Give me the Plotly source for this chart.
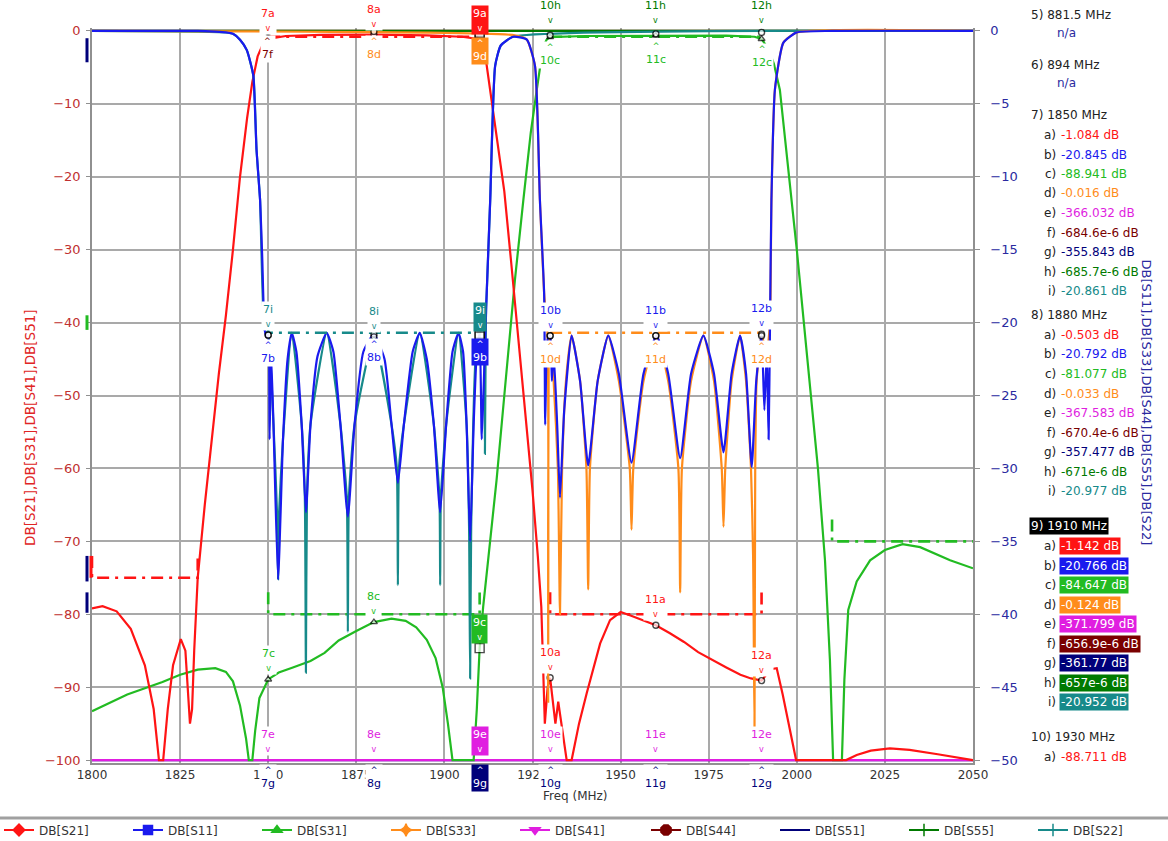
import plotly.graph_objects as go

# ---------------- data ----------------
# S21 (left axis, dB)
s21_f = [1800, 1803, 1807, 1811, 1815, 1817.5, 1819, 1820.2, 1821.5, 1823, 1825.2, 1826.5, 1827.8, 1828.4,
         1829, 1830, 1832, 1834, 1836, 1838, 1840, 1842, 1844, 1845.5, 1847, 1848.5, 1850, 1855, 1865,
         1880, 1895, 1905, 1910, 1911.5, 1913, 1915, 1917, 1919, 1921, 1923, 1925, 1926.5, 1927.5, 1928.5,
         1929.3, 1930, 1930.6, 1931.5, 1932.3, 1934.7, 1936.1, 1938.2, 1940.4, 1944.2, 1947, 1950, 1953,
         1957, 1960, 1964, 1968, 1972, 1976, 1980, 1984, 1987, 1990, 1991.5, 1993, 1994.3, 1996, 1998,
         1999.8, 2012, 2014, 2017, 2021, 2026.4, 2032, 2040, 2046, 2050]
s21_db = [-79.2, -78.9, -79.6, -82, -87, -93, -100, -100, -93, -87, -83.4, -85, -95, -93,
          -85, -75, -65, -56, -47, -39, -30, -20, -12, -7, -3.5, -1.8, -1.084, -0.7, -0.55,
          -0.503, -0.6, -0.8, -1.142, -3, -8, -15, -22, -32, -42, -52, -63, -72, -79, -95,
          -90, -88.711, -91, -95, -92, -100, -100, -95, -90.8, -84, -80.8, -79.7, -80.2,
          -81, -81.5, -82.6, -83.8, -85.2, -86.3, -87.3, -88.3, -88.8, -89.1, -88.2, -87.5, -87.4, -91, -96,
          -100, -100, -100, -99.3, -98.7, -98.4, -98.6, -99.2, -99.7, -100]

# S31 (left axis, dB)
s31_f = [1800, 1810, 1820, 1825, 1830, 1835, 1838, 1840, 1842, 1843.7, 1844.5, 1845.5, 1846.3, 1847.5,
         1850, 1853, 1857, 1862, 1866, 1870, 1875, 1880, 1885, 1889, 1892, 1895, 1897.5, 1899.5, 1901,
         1902.3, 1908.3, 1909.2, 1910, 1911, 1912.4, 1914.8, 1917, 1920, 1922.4, 1924.5, 1926.2, 1928,
         1929, 1930, 1940, 1960, 1980, 1988, 1990, 1992, 1993.5, 1995.2, 1997, 2000, 2003, 2006, 2008,
         2009.4, 2010.3, 2012.8, 2013.5, 2014.6, 2017, 2020.8, 2025, 2030, 2035, 2040, 2043.5, 2050]
s31_db = [-93.3, -91, -89.3, -88.3, -87.6, -87.4, -87.9, -89.2, -92.5, -97, -100, -100, -96, -91.5,
          -88.941, -88, -87.3, -86.4, -85.3, -83.6, -82.3, -81.077, -80.6, -80.9, -81.8, -83.5, -86, -90, -95,
          -100, -100, -93, -84.647, -79, -72.6, -61.6, -50, -34.2, -23.2, -14, -8.1, -2.2,
          -1.2, -0.85, -0.7, -0.65, -0.65, -0.8, -1.1, -2.5, -4.5, -8.1, -16, -30, -45, -60, -72.6,
          -86.3, -100, -100, -89, -79.4, -75.5, -72.6, -71.2, -70.4, -70.8, -71.9, -72.6, -73.7]

# S41 / S51 (left axis, far below the axis floor)
s41_f = [1800, 1850, 1880, 1910, 2050]
s41_db = [-365.0, -366.032, -367.583, -371.799, -380.0]
s51_f = [1800, 1850, 1880, 1910, 2050]
s51_db = [-355.0, -355.843, -357.477, -361.77, -370.0]

# S11 (right axis, dB)
s11_f = [1800, 1820, 1830, 1835, 1838, 1840, 1842, 1843.9, 1845, 1845.8, 1846.7, 1847.7, 1848.3, 1849,
         1849.6, 1850, 1850.4, 1850.8, 1851.5, 1852.8, 1854.2, 1855.5, 1856.7, 1858, 1859.5, 1860.7, 1862,
         1864, 1866.6, 1868.5, 1870.5, 1872.6, 1874.5, 1877, 1880, 1883, 1885, 1886.8, 1888.5, 1891, 1893,
         1895, 1897, 1898.8, 1900.5, 1902.3, 1904, 1905.3, 1906.3, 1907.3, 1908.3, 1909.2, 1910, 1910.6,
         1911.2, 1912, 1913, 1914.4, 1916, 1919.5, 1923.4, 1925.7, 1927.1, 1928.3, 1928.6, 1929, 1929.5,
         1930, 1930.5, 1931, 1932, 1932.8, 1934, 1936.1, 1938.5, 1940.8, 1943.5, 1946.5, 1949.5, 1953.1,
         1956.5, 1960.2, 1963.5, 1966.9, 1970, 1973.5, 1976.5, 1979.2, 1981.5, 1983.9, 1985.6, 1987.2,
         1988.5, 1990, 1990.8, 1991.5, 1992, 1992.4, 1992.8, 1993.8, 1996.2, 2000, 2010, 2050]
s11_db = [0, 0, 0, -0.05, -0.1, -0.2, -0.6, -1.3, -2.2, -3.1, -8.2, -11.6, -15.5, -20.5,
          -21, -20.845, -28, -22, -27, -37.6, -28, -22.5, -20.7, -22, -27, -33, -27,
          -22.3, -20.7, -22, -27, -33.3, -27, -22, -20.792, -22.5, -27, -31, -27, -22, -20.7,
          -22.5, -27, -33, -27, -22, -20.7, -22, -27, -35, -27, -22, -20.766, -28,
          -24, -18, -11.6, -2.4, -1.0, -0.4, -0.6, -2.4, -11.6, -18, -27, -22, -20.9,
          -20.9, -24, -22, -27, -32, -26, -20.9, -24, -29.8, -24, -20.9, -23.5, -29.6,
          -23.5, -20.9, -23.5, -29.3, -23.5, -20.9, -23.5, -28.9, -23.5, -20.9, -23.5, -29.9,
          -24, -20.8, -26, -22, -28, -20, -11.6, -4, -0.8, -0.1, 0, 0]

# S22 (right axis, dB)
s22_f = [1800, 1838, 1840, 1842, 1843.9, 1845.8, 1846.7, 1847.7, 1849, 1850, 1851.5, 1852.5, 1852.8, 1853.1,
         1854.2, 1856.7, 1859.5, 1860.4, 1860.7, 1861, 1862, 1866.6, 1870.5, 1872.3, 1872.6, 1872.9,
         1874.5, 1880, 1885, 1886.5, 1886.8, 1887.1, 1888.5, 1893, 1897, 1898.6, 1898.8, 1899.0, 1900.5,
         1904, 1906.3, 1907.0, 1907.3, 1907.6, 1909, 1910, 1911.2, 1911.5, 1911.8, 1912, 1913, 1914.4,
         1916, 1919.5, 2050]
s22_db = [0, -0.1, -0.2, -0.6, -1.3, -3.1, -8.2, -11.6, -20.5, -20.861, -27, -33, -37.6, -33,
          -28, -20.7, -27, -32, -44, -32, -27, -20.7, -27, -32, -41.2, -32,
          -27, -20.977, -27, -30, -38, -30, -27, -20.7, -27, -32, -38, -32, -27,
          -20.7, -27, -34, -44.4, -34, -22, -20.952, -19, -29, -19, -18, -11.6, -2.4,
          -1.0, -0.4, 0]

# S33 (right axis, dB)
s33_f = [1800, 1920, 1923.4, 1925.7, 1927.1, 1928.3, 1929.3, 1929.45, 1929.6, 1930, 1931, 1932.2, 1932.8,
         1933.4, 1934.5, 1936.1, 1938.5, 1940.3, 1940.8, 1941.3, 1943.5, 1946.5, 1949.5, 1952.6, 1953.1,
         1953.6, 1956.5, 1960.2, 1963.5, 1966.4, 1966.9, 1967.4, 1970, 1973.5, 1976.5, 1978.7, 1979.2,
         1979.7, 1981.5, 1983.9, 1985.6, 1987.0, 1987.6, 1988.0, 1988.2, 1988.6, 1990, 1991.5, 1992.4,
         1992.8, 1993.8, 1996.2, 2000, 2050]
s33_db = [0, -0.3, -0.6, -2.4, -11.6, -18, -21, -46, -22, -20.9, -24, -30, -40,
          -30, -24, -20.9, -24, -30, -38.3, -30, -24, -20.9, -24, -30, -34.2,
          -30, -24, -20.9, -24, -30, -38.5, -30, -24, -20.9, -24, -30, -34,
          -30, -24, -20.9, -24, -30, -36, -48, -30, -24, -20.9, -22, -20,
          -11.6, -4, -0.8, -0.1, 0]

# S44 / S55 (right axis, essentially 0 dB)
s44_f = [1800, 1850, 1880, 1910, 2050]
s44_db = [-690e-6, -684.6e-6, -670.4e-6, -656.9e-6, -640e-6]
s55_f = [1800, 1850, 1880, 1910, 2050]
s55_db = [-690e-6, -685.7e-6, -671e-6, -657e-6, -640e-6]

# limit lines (dash-dot)
lim_s21_f = [1800, 1800, 1830, 1830, None, 1850, 1910, None, 1930, 1930, 1990, 1990]
lim_s21_db = [-72, -75, -75, -72, None, -0.8, -0.8, None, -77, -80, -80, -77]
lim_s31_f = [1850, 1850, 1910, 1910, None, 1930, 1990, None, 2010, 2010, 2050]
lim_s31_db = [-77, -80, -80, -77, None, -0.8, -0.8, None, -67, -70, -70]
lim_s22_f = [1850, 1850, 1910]
lim_s22_db = [-20.2, -20.7, -20.7]
lim_s33_f = [1930, 1990, 1990]
lim_s33_db = [-20.7, -20.7, -20.2]

# short reference bars drawn beside the left axis (left-axis dB, colour index)
axis_bars = [(-1.0, -4.3, 6), (-72.0, -75.5, 6), (-77.0, -79.8, 6), (-72.0, -75.0, 0), (-39.0, -41.0, 2)]

# markers
mk_id = [7, 8, 9, 10, 11, 12]
mk_f = [1850, 1880, 1910, 1930, 1960, 1990]
mk_txt = {
    7: ["-1.084", "-20.845", "-88.941", "-0.016", "-366.032", "-684.6e-6", "-355.843", "-685.7e-6", "-20.861"],
    8: ["-0.503", "-20.792", "-81.077", "-0.033", "-367.583", "-670.4e-6", "-357.477", "-671e-6", "-20.977"],
    9: ["-1.142", "-20.766", "-84.647", "-0.124", "-371.799", "-656.9e-6", "-361.77", "-657e-6", "-20.952"],
    10: ["-88.711", "-20.9", "-0.85", "-20.9", "-370", "-650e-6", "-360", "-650e-6", "-0.3"],
    11: ["-81.5", "-20.9", "-0.65", "-20.9", "-372", "-645e-6", "-362", "-645e-6", "-0.2"],
    12: ["-89.1", "-20.8", "-1.1", "-20.9", "-374", "-640e-6", "-364", "-640e-6", "-0.1"],
}
letters = ["a", "b", "c", "d", "e", "f", "g", "h", "i"]
trace_names = ["DB[S21]", "DB[S11]", "DB[S31]", "DB[S33]", "DB[S41]", "DB[S44]", "DB[S51]", "DB[S55]", "DB[S22]"]
trace_axis = ["y", "y2", "y", "y2", "y", "y2", "y", "y2", "y2"]
trace_col = ["#ff1414", "#1a1aee", "#22bb22", "#ff8c1a", "#e01ee0", "#7a0000", "#00007a", "#007a00", "#178a8a"]

label_specs = {
    7: [("a", "up"), ("f", "dn"), ("i", "up"), ("b", "dn"), ("c", "up"), ("e", "up"), ("g", "dn")],
    8: [("a", "up"), ("d", "dn"), ("i", "up"), ("b", "dn"), ("c", "up"), ("e", "up"), ("g", "dn")],
    9: [("a", "up"), ("d", "dn"), ("i", "up"), ("b", "dn"), ("c", "up"), ("e", "up"), ("g", "dn")],
    10: [("h", "up"), ("c", "dn"), ("b", "up"), ("d", "dn"), ("a", "up"), ("e", "up"), ("g", "dn")],
    11: [("h", "up"), ("c", "dn"), ("b", "up"), ("d", "dn"), ("a", "up"), ("e", "up"), ("g", "dn")],
    12: [("h", "up"), ("c", "dn"), ("b", "up"), ("d", "dn"), ("a", "up"), ("e", "up"), ("g", "dn")],
}
active_marker = 9

panel_headers = ["5) 881.5 MHz", "6) 894 MHz", "7) 1850 MHz", "8) 1880 MHz", "9) 1910 MHz", "10) 1930 MHz"]
panel_ids = [5, 6, 7, 8, 9, 10]
panel_count = {5: 0, 6: 0, 7: 9, 8: 9, 9: 9, 10: 1}

x_ticks = [1800, 1825, 1850, 1875, 1900, 1925, 1950, 1975, 2000, 2025, 2050]
y_ticks = [0, -10, -20, -30, -40, -50, -60, -70, -80, -90, -100]
y2_ticks = [0, -5, -10, -15, -20, -25, -30, -35, -40, -45, -50]

# ---------------- figure ----------------
W, H = 1168, 841
PL, PR, PT, PB = 92, 973, 28, 763
Y_LO, Y_HI = -100.4, 0.4
Y2_LO, Y2_HI = -50.2, 0.2
FONT = "DejaVu Sans, Liberation Sans, Arial, sans-serif"


def pxx(px):
    return (px - PL) / (PR - PL)


def pxy(py):
    return (PB - py) / (PB - PT)


def clip(v, ax):
    lo = -100 if ax == "y" else -50
    return None if v is None else max(v, lo)


fig = go.Figure()

series = {
    "DB[S21]": (s21_f, s21_db), "DB[S11]": (s11_f, s11_db), "DB[S31]": (s31_f, s31_db),
    "DB[S33]": (s33_f, s33_db), "DB[S41]": (s41_f, s41_db), "DB[S44]": (s44_f, s44_db),
    "DB[S51]": (s51_f, s51_db), "DB[S55]": (s55_f, s55_db), "DB[S22]": (s22_f, s22_db),
}
smooth = {"DB[S11]", "DB[S33]", "DB[S22]"}
draw_order = ["DB[S51]", "DB[S41]", "DB[S44]", "DB[S55]", "DB[S22]", "DB[S33]", "DB[S11]", "DB[S31]", "DB[S21]"]

for nm in draw_order:
    k = trace_names.index(nm)
    f, v = series[nm]
    ax = trace_axis[k]
    ln = dict(color=trace_col[k], width=2.2)
    if nm in smooth:
        ln.update(shape="spline", smoothing=0.5)
    fig.add_trace(go.Scatter(x=f, y=[clip(t, ax) for t in v], mode="lines", yaxis=ax,
                             line=ln, showlegend=False, hoverinfo="skip"))

dashpat = "12px,6px,3px,6px"
for f, v, k in [(lim_s22_f, lim_s22_db, 8), (lim_s33_f, lim_s33_db, 3), (lim_s31_f, lim_s31_db, 2),
                (lim_s21_f, lim_s21_db, 0)]:
    fig.add_trace(go.Scatter(x=f, y=v, mode="lines", yaxis=trace_axis[k], connectgaps=False,
                             line=dict(color=trace_col[k], width=2.6, dash=dashpat),
                             showlegend=False, hoverinfo="skip"))

# marker points
for ax in ["y", "y2"]:
    xs, ys, syms, sizes = [], [], [], []
    for mid, f in zip(mk_id, mk_f):
        for li, lt in enumerate(letters):
            if trace_axis[li] != ax or lt in ("e", "g", "f", "h"):
                continue
            val = float(mk_txt[mid][li])
            xs.append(f)
            ys.append(clip(val, ax))
            syms.append("square" if mid == active_marker else ("triangle-up" if lt == "c" else "circle"))
            sizes.append(9 if mid == active_marker else 6)
    fig.add_trace(go.Scatter(x=xs, y=ys, mode="markers", yaxis=ax, cliponaxis=False,
                             marker=dict(symbol=syms, size=sizes, color="white",
                                         line=dict(color="black", width=1.4)),
                             showlegend=False, hoverinfo="skip"))

# legend entries (split over two legend boxes so they fit on one row)
leg_sym = ["diamond", "square", "triangle-up", "star-diamond", "triangle-down", "octagon", None, "cross-thin", "cross-thin"]
for k, nm in enumerate(trace_names):
    sym = leg_sym[k]
    lg = "legend" if k < 5 else "legend2"
    if sym is None:
        fig.add_trace(go.Scatter(x=[None], y=[None], mode="lines", name=nm, legend=lg,
                                 line=dict(color=trace_col[k], width=2)))
    else:
        fig.add_trace(go.Scatter(x=[None], y=[None], mode="lines+markers", name=nm, legend=lg,
                                 line=dict(color=trace_col[k], width=2),
                                 marker=dict(symbol=sym, size=9 if k != 5 else 11, color=trace_col[k],
                                             line=dict(color=trace_col[k], width=1.5))))

ann = []
# marker labels
for mid, f in zip(mk_id, mk_f):
    for lt, side in label_specs[mid]:
        li = letters.index(lt)
        ax = trace_axis[li]
        val = clip(float(mk_txt[mid][li]), ax)
        col = trace_col[li]
        lab = f"{mid}{lt}"
        active = mid == active_marker
        if side == "up":
            txt = f"{lab}<br><span style='font-size:8px'>v</span>"
            ya, ys = "bottom", 4
        else:
            txt = f"<span style='font-size:8px'>^</span><br>{lab}"
            ya, ys = "top", -4
        ann.append(dict(x=f, y=val, xref="x", yref=ax, text=txt, showarrow=False, yanchor=ya, yshift=ys,
                        font=dict(size=11, color="white" if active else col, family=FONT),
                        bgcolor=col if active else "white", borderpad=1))

# right readout panel
ycur = 15
for hdr, pid in zip(panel_headers, panel_ids):
    n = panel_count[pid]
    active = pid == active_marker
    ann.append(dict(x=pxx(1029), y=pxy(ycur), xref="paper", yref="paper", text=hdr, showarrow=False,
                    xanchor="left", yanchor="middle",
                    font=dict(size=12, color="white" if active else "#222222", family=FONT),
                    bgcolor="black" if active else "rgba(0,0,0,0)", borderpad=1))
    if n == 0:
        ann.append(dict(x=pxx(1055), y=pxy(ycur + 18), xref="paper", yref="paper", text="n/a",
                        showarrow=False, xanchor="left", yanchor="middle",
                        font=dict(size=12, color="#2a2aa0", family=FONT)))
        ycur += 50
        continue
    yy = ycur + 20
    for li in range(n):
        col = trace_col[li]
        ann.append(dict(x=pxx(1058), y=pxy(yy), xref="paper", yref="paper", text=f"{letters[li]})",
                        showarrow=False, xanchor="right", yanchor="middle",
                        font=dict(size=12, color="#222222", family=FONT)))
        ann.append(dict(x=pxx(1059), y=pxy(yy), xref="paper", yref="paper", text=f"{mk_txt[pid][li]} dB",
                        showarrow=False, xanchor="left", yanchor="middle",
                        font=dict(size=12, color="white" if active else col, family=FONT),
                        bgcolor=col if active else "rgba(0,0,0,0)", borderpad=1))
        yy += 19.5
    ycur = yy - 19.5 + (35 if pid + 1 == active_marker or active else 24)

# axis titles
ann.append(dict(x=pxx(20), y=pxy(428), xref="paper", yref="paper", text="DB[S21],DB[S31],DB[S41],DB[S51]",
                textangle=-90, showarrow=False, font=dict(size=13.5, color="#e02424", family=FONT)))
ann.append(dict(x=pxx(1156), y=pxy(402), xref="paper", yref="paper",
                text="DB[S11],DB[S33],DB[S44],DB[S55],DB[S22]",
                textangle=90, showarrow=False, font=dict(size=13, color="#2a2aa0", family=FONT)))
ann.append(dict(x=pxx(575), y=pxy(805), xref="paper", yref="paper", text="Freq (MHz)", showarrow=False,
                font=dict(size=12, color="#333333", family=FONT)))

shapes = [dict(type="line", xref="paper", yref="paper", x0=pxx(0), x1=pxx(W), y0=pxy(818), y1=pxy(818),
               line=dict(color="#a0a0a0", width=3))]
for k, (y0, y1, ci) in enumerate(axis_bars):
    xo = 87 if ci != 0 else 91
    shapes.append(dict(type="line", xref="paper", yref="y", x0=pxx(xo), x1=pxx(xo), y0=y0, y1=y1,
                       line=dict(color=trace_col[ci], width=3)))

grid = "#a9a9a9"
leg_common = dict(orientation="h", xanchor="left", yanchor="middle", entrywidth=84, entrywidthmode="pixels",
                  itemwidth=30, font=dict(size=12, color="#333333"), bgcolor="rgba(0,0,0,0)",
                  traceorder="normal")
fig.update_layout(
    width=W, height=H, margin=dict(l=PL, r=W - PR, t=PT, b=H - PB, autoexpand=False),
    paper_bgcolor="white", plot_bgcolor="white",
    font=dict(family=FONT, size=12, color="#333333"),
    xaxis=dict(range=[1800, 2050], tickvals=x_ticks, showgrid=True, gridcolor=grid, gridwidth=1.6,
               zeroline=False, showline=True, linecolor="#909090", linewidth=1.5, ticks="",
               tickfont=dict(size=12, color="#333333")),
    yaxis=dict(range=[Y_LO, Y_HI], tickvals=y_ticks, showgrid=True, gridcolor=grid, gridwidth=1.6,
               zeroline=False, showline=True, linecolor="#909090", linewidth=1.5, ticks="outside",
               ticklen=4, tickcolor="#909090", ticklabelstandoff=3,
               tickfont=dict(size=13, color="#c03030")),
    yaxis2=dict(range=[Y2_LO, Y2_HI], tickvals=y2_ticks, overlaying="y", side="right", showgrid=False,
                zeroline=False, showline=True, linecolor="#909090", linewidth=1.5, ticks="outside",
                ticklen=5, tickcolor="#909090", ticklabelstandoff=8,
                tickfont=dict(size=13, color="#2a2aa0")),
    legend=dict(x=pxx(-1), y=pxy(830), **leg_common),
    legend2=dict(x=pxx(646), y=pxy(830), **leg_common),
    annotations=ann, shapes=shapes,
)

fig.write_html("out.html", config={"displayModeBar": False})
with open("out.html", "r", encoding="utf-8") as fh:
    html = fh.read()
html = html.replace("<head>", "<head><style>html,body{margin:0;padding:0;overflow:hidden}</style>", 1)
with open("out.html", "w", encoding="utf-8") as fh:
    fh.write(html)
